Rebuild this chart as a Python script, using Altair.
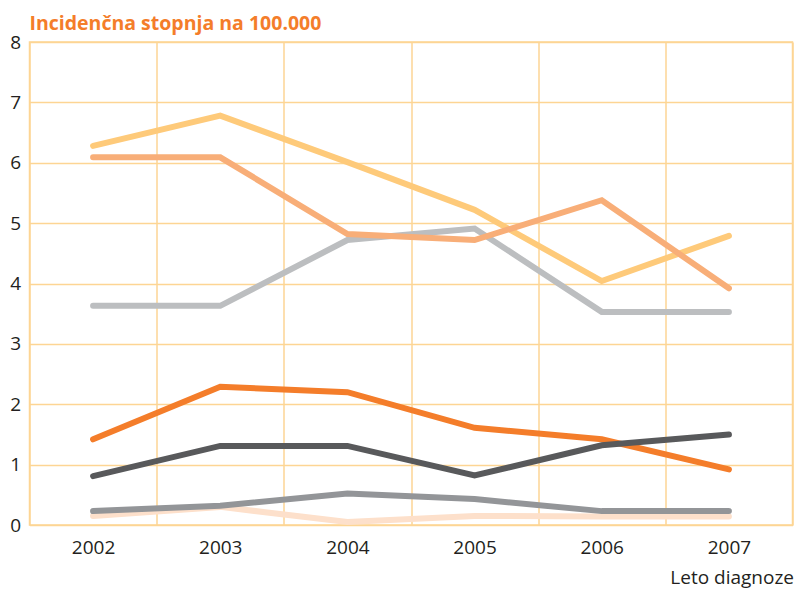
import altair as alt
import pandas as pd

years = ["2002", "2003", "2004", "2005", "2006", "2007"]

# series listed in drawing order (bottom to top)
series_names = ["s1", "s2", "s3", "s4", "s5", "s6", "s7"]
s_peach = [0.15, 0.30, 0.05, 0.15, 0.14, 0.14]
s_midgray = [0.23, 0.32, 0.52, 0.43, 0.23, 0.23]
s_orange = [1.42, 2.29, 2.20, 1.61, 1.42, 0.92]
s_darkgray = [0.81, 1.31, 1.31, 0.82, 1.32, 1.50]
s_lightgray = [3.63, 3.63, 4.72, 4.91, 3.53, 3.53]
s_yellow = [6.28, 6.78, 6.01, 5.22, 4.04, 4.79]
s_salmon = [6.09, 6.09, 4.82, 4.72, 5.38, 3.92]
series_values = [s_peach, s_midgray, s_orange, s_darkgray, s_lightgray, s_yellow, s_salmon]
series_colors = ["#FDE0CB", "#939598", "#F47D2A", "#58595B", "#BCBEC0", "#FECA7A", "#F8AE78"]

y_ticks = [0, 1, 2, 3, 4, 5, 6, 7, 8]

rows = []
for name, vals in zip(series_names, series_values):
    for yr, v in zip(years, vals):
        rows.append({"leto": yr, "vrednost": v, "serija": name})
df = pd.DataFrame(rows)

GRID = "#FDD594"
TEXT = "#231F20"
FONT = "Open Sans"

chart = alt.Chart(df).mark_line(
    strokeWidth=6, strokeCap="round", strokeJoin="miter"
).encode(
    x=alt.X(
        "leto:N",
        sort=years,
        scale=alt.Scale(paddingInner=0, paddingOuter=0),
        axis=alt.Axis(
            title="Leto diagnoze",
            labelAngle=0,
            labelFontSize=19,
            labelFont=FONT,
            labelColor=TEXT,
            labelPadding=13,
            ticks=False,
            domain=False,
            grid=True,
            tickBand="extent",
            gridColor=GRID,
            gridWidth=1.5,
            titleFont=FONT,
            titleFontSize=19,
            titleFontWeight="normal",
            titleColor=TEXT,
            titleAlign="right",
            titleAnchor="end",
            titleBaseline="alphabetic",
            titleX=764,
            titleY=58,
        ),
    ),
    y=alt.Y(
        "vrednost:Q",
        scale=alt.Scale(domain=[0, 8], nice=False, zero=True),
        axis=alt.Axis(
            title=None,
            values=y_ticks,
            labelFontSize=19,
            labelFont=FONT,
            labelColor=TEXT,
            labelPadding=9,
            ticks=False,
            domain=False,
            grid=True,
            gridColor=GRID,
            gridWidth=1.5,
        ),
    ),
    color=alt.Color(
        "serija:N",
        scale=alt.Scale(domain=series_names, range=series_colors),
        legend=None,
    ),
    order=alt.Order("leto:N"),
).properties(
    width=763,
    height=483,
    title=alt.TitleParams(
        text="Incidenčna stopnja na  100.000",
        anchor="start",
        frame="group",
        font=FONT,
        fontSize=19.5,
        fontWeight="bold",
        color="#F47D2A",
        offset=12,
        dy=13,
    ),
    autosize=alt.AutoSizeParams(type="none"),
    padding={"left": 21.5, "top": 34, "right": 1.5, "bottom": 63},
).configure_view(
    stroke=GRID, strokeWidth=1.5
)

chart.save("out.html", embed_options={"renderer": "svg", "actions": False})
